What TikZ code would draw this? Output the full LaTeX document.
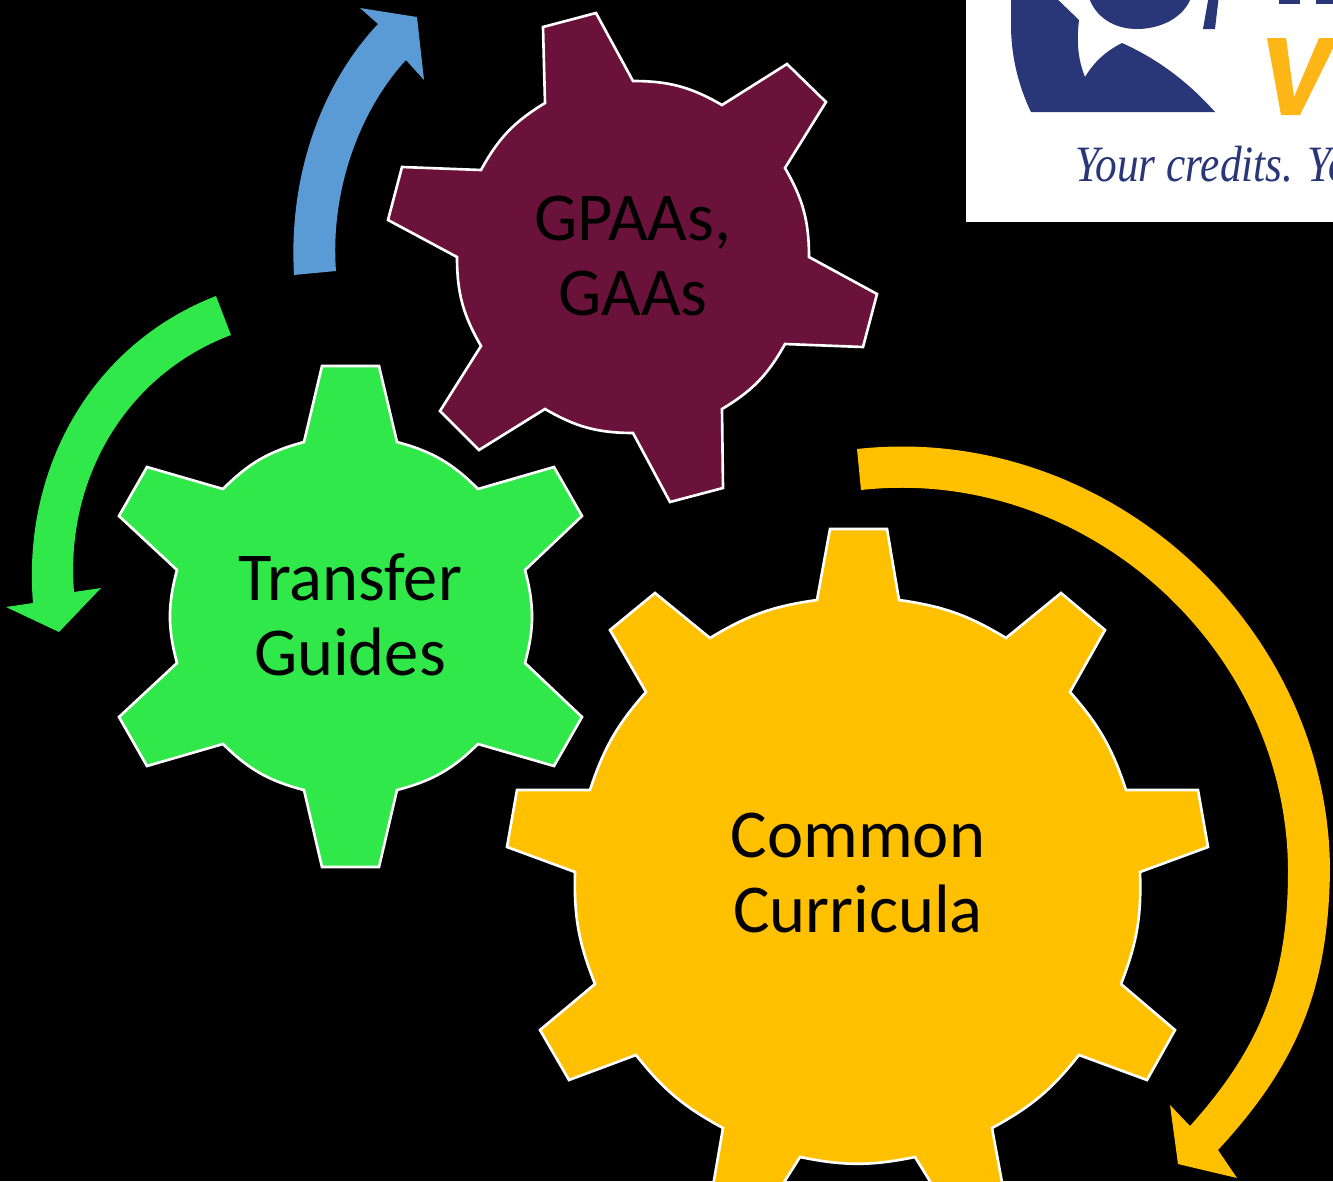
\documentclass[tikz,border=0pt]{standalone}
\usepackage{fontspec}
\setmainfont{Carlito}
\newfontfamily\logofont[FakeStretch=0.85]{Liberation Serif}
\definecolor{gearmaroon}{RGB}{107,18,58}
\definecolor{geargreen}{RGB}{48,232,74}
\definecolor{gearorange}{RGB}{255,192,0}
\definecolor{arrowblue}{RGB}{91,155,213}
\definecolor{logoblue}{RGB}{41,54,120}
\definecolor{logoorange}{RGB}{254,181,22}
\tikzset{
    gear/.style =   {fill=#1,
                    draw=white,
                    line width=1.5pt,
                    line join=miter},
    band/.style =   {fill=#1,
                    draw=none},
    label/.style =  {text=black,
                    align=center,
                    font=\fontsize{39pt}{42.7pt}\selectfont},
    logopart/.style = {fill=logoblue,
                    draw=none}}
\begin{document}
\begin{tikzpicture}[x=0.02cm,y=-0.02cm]
    \useasboundingbox (0,0) rectangle (1333,1181);
    \clip (0,0) rectangle (1333,1181);
    \fill[black] (0,0) rectangle (1333,1181);
    % logo
    \fill[white] (966,-5) rectangle (1340,222);
    \fill[logopart] (1053,-5) -- (1079,20) .. controls (1076,45) and (1079,62) .. (1085,77)
        .. controls (1094,62) and (1106,51) .. (1122,43)
        .. controls (1160,60) and (1190,84) .. (1215,112)
        -- (1031,112) .. controls (1018,85) and (1011,55) .. (1011,25) -- (1011,-5) -- cycle;
    \fill[logopart] (1088,-5) .. controls (1095,18) and (1115,29) .. (1137,29)
        .. controls (1160,29) and (1185,18) .. (1192,-5) -- cycle;
    \fill[logopart] (1209,-5) -- (1219,-5) -- (1215,29) -- (1203,29) -- cycle;
    \fill[logopart] (1279,-5) rectangle (1300,4);
    \fill[logopart] (1316,-5) rectangle (1333,4);
    \fill[logoorange] (1267,38) -- (1286,38) -- (1294,97) -- (1319,38) -- (1338,38) -- (1300,115) -- (1281,115) -- cycle;
    \node[anchor=base west,inner sep=0pt,text=logoblue,font=\logofont\itshape\fontsize{29pt}{30pt}\selectfont]
        (tagline) at (1075,181) {Your credits. Yo};
    % arrows
    \fill[band=arrowblue] (294,275) .. controls (288,170) and (325,80) .. (378,24)
        -- (360,8) -- (417,17) -- (424,80) -- (406,60)
        .. controls (360,110) and (330,190) .. (336,271) -- cycle;
    \fill[band=geargreen] (216,296) .. controls (90,345) and (22,470) .. (33,603)
        -- (6,607) -- (59,632) -- (101,588) -- (74,592)
        .. controls (65,480) and (125,375) .. (231,335) -- cycle;
    \fill[band=gearorange] (857,449) to[bend left=48] (1330,870) to[bend left=21] (1218,1150)
        -- (1237,1178) -- (1178,1164) -- (1170,1105) -- (1190,1126)
        to[bend right=21] (1288,870) to[bend right=48] (861,490) -- cycle;
    % gears
    \draw[gear=gearmaroon] (543,27) -- (596,13) -- (633,81) to[bend left=15] (722,105)
        -- (787,64) -- (826,102) -- (785,168) to[bend left=15] (809,257)
        -- (877,294) -- (863,347) -- (785,344) to[bend left=15] (722,409)
        -- (723,488) -- (670,502) -- (633,433) to[bend left=15] (545,409)
        -- (479,450) -- (440,411) -- (481,346) to[bend left=15] (457,257)
        -- (388,220) -- (402,167) -- (481,170) to[bend left=15] (545,103) -- cycle;
    \draw[gear=geargreen] (322,366) -- (379,366) -- (397,442) to[bend left=15] (478,489)
        -- (554,467) -- (582,516) -- (525,570) to[bend left=15] (525,663)
        -- (582,717) -- (554,766) -- (478,744) to[bend left=15] (397,790)
        -- (379,867) -- (322,867) -- (304,790) to[bend left=15] (223,744)
        -- (147,766) -- (119,717) -- (177,663) to[bend left=15] (177,570)
        -- (119,516) -- (147,467) -- (223,489) to[bend left=15] (304,442) -- cycle;
    \draw[gear=gearorange] (830,529) -- (887,529) -- (899,600) to[bend left=11.6] (1006,638)
        -- (1061,593) -- (1105,630) -- (1070,692) to[bend left=11.6] (1126,790)
        -- (1198,790) -- (1208,847) -- (1140,872) to[bend left=11.6] (1121,984)
        -- (1175,1030) -- (1147,1080) -- (1079,1055) to[bend left=11.6] (992,1128)
        -- (1008,1215) -- (957,1225) -- (915,1157) to[bend left=11.6] (800,1157)
        -- (757,1225) -- (708,1215) -- (723,1128) to[bend left=11.6] (636,1055)
        -- (569,1080) -- (540,1030) -- (595,984) to[bend left=11.6] (575,872)
        -- (507,847) -- (517,790) -- (590,790) to[bend left=11.6] (646,692)
        -- (610,630) -- (655,593) -- (710,638) to[bend left=11.6] (817,600) -- cycle;
    % labels
    \node[label] (gpaas)    at (633,256) {GPAAs,\\GAAs};
    \node[label] (transfer) at (350,615) {Transfer\\Guides};
    \node[label] (common)   at (858,873) {Common\\Curricula};
\end{tikzpicture}
\end{document}
